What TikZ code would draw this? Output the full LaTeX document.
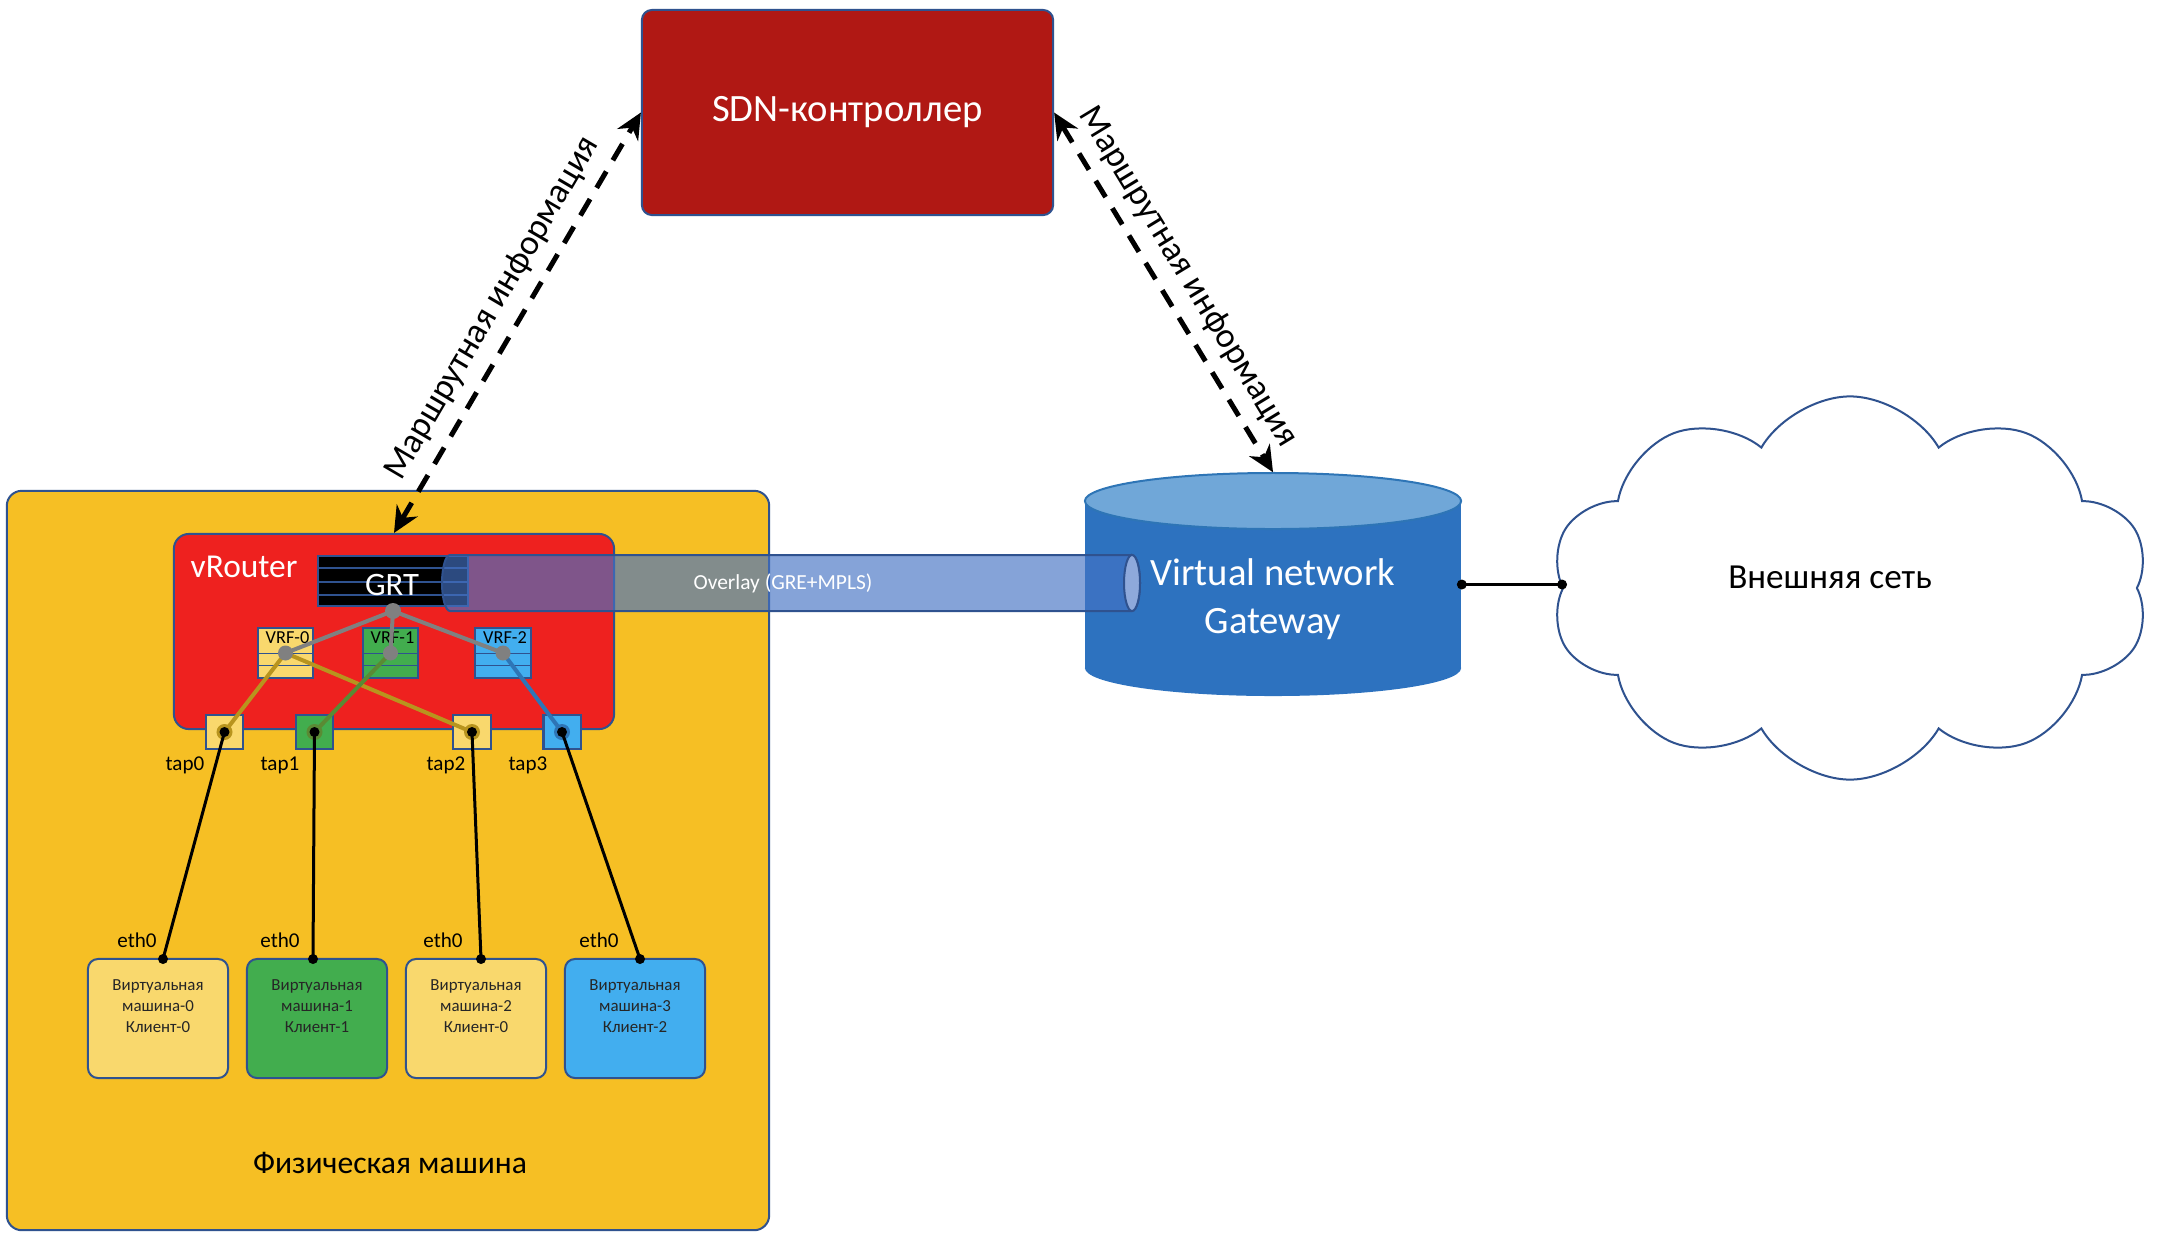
\documentclass[tikz,border=0pt]{standalone}
\usepackage{fontspec}
\setmainfont{Carlito}
\usetikzlibrary{arrows.meta,shapes.symbols}
\definecolor{frame}{HTML}{2F528F}
\definecolor{hostcol}{HTML}{F6BF24}
\definecolor{routercol}{HTML}{EE211F}
\definecolor{sdncol}{HTML}{B01814}
\definecolor{yel}{HTML}{F9D86D}
\definecolor{grn}{HTML}{42AD4E}
\definecolor{blu}{HTML}{42AEEF}
\definecolor{yelline}{HTML}{B8941E}
\definecolor{grnline}{HTML}{5A8A34}
\definecolor{bluline}{HTML}{2E75B6}
\definecolor{gwbody}{HTML}{2D72BF}
\definecolor{gwtop}{HTML}{70A7D8}
\definecolor{tunnel}{HTML}{4472C4}
\definecolor{tunnelcap}{HTML}{8EA9DB}
\definecolor{dark}{HTML}{262626}
\begin{document}
\begin{tikzpicture}[>={Stealth[length=2.6mm,width=2.4mm]},
	box/.style={draw=frame,line width=0.2mm},
	route/.style={<->,line width=0.5mm,dash pattern=on 1.9mm off 1.3mm},
	link/.style={line width=0.4mm},
	wire/.style={line width=0.3mm},
	small/.style={font=\fontsize{6}{7}\selectfont},
	vmtext/.style={font=\fontsize{4.8}{6}\selectfont,text=dark,align=center}
]
\def\ds{0.01}
\def\pix#1#2{({(#1)*\ds},{(-#2)*\ds})}
\path[use as bounding box,fill=white] \pix{0}{0} rectangle \pix{2180}{1242};

\node[box,rounded corners=1.5mm,fill=hostcol,minimum width=76.2mm,minimum height=73.9mm] (host) at \pix{388}{860.5} {};
\node[font=\fontsize{9}{11}\selectfont] (hostlabel) at \pix{390}{1163} {Физическая машина};

\node[box,rounded corners=1.5mm,fill=routercol,minimum width=44mm,minimum height=19.5mm] (vrouter) at \pix{394}{631.5} {};
\node[white,anchor=west,inner sep=0pt,font=\fontsize{9.5}{11}\selectfont] (vrlabel) at \pix{190}{567} {vRouter};

\node[box,fill=black,minimum width=15mm,minimum height=5mm] (grt) at \pix{393}{581} {};
\foreach \y in {568,582,595}{
	\draw[frame,line width=0.15mm] \pix{318}{\y} -- \pix{468}{\y};
}
\node[white,font=\fontsize{9.3}{11}\selectfont] (grtlabel) at \pix{392}{585} {GRT};
\path \pix{393}{611} coordinate (hub);

\foreach \n/\x/\c in {0/285.5/yel,1/390.5/grn,2/503/blu}{
	\node[box,fill=\c,minimum width=5.5mm,minimum height=5mm] (vrf\n) at \pix{\x}{653} {};
	\draw[frame,line width=0.1mm] \pix{\x-27.5}{653} -- \pix{\x+27.5}{653};
	\draw[frame,line width=0.1mm] \pix{\x-27.5}{665} -- \pix{\x+27.5}{665};
	\node[font=\fontsize{5.2}{6}\selectfont,inner sep=0pt] (vrflabel\n) at \pix{\x+2}{638} {VRF-\n};
}

\foreach \n/\x/\c/\lx in {0/224.5/yel/185,1/314.5/grn/280,2/472/yel/446,3/562/blu/528}{
	\node[box,fill=\c,minimum width=3.7mm,minimum height=3.4mm] (tap\n) at \pix{\x}{732} {};
	\node[small] (taplabel\n) at \pix{\lx}{765} {tap\n};
}

\foreach \n/\x/\c/\k/\ex/\lx in {0/158/yel/0/163/137,1/317/grn/1/313/280,2/476/yel/0/481/443,3/635/blu/2/640/599}{
	\node[box,rounded corners=1mm,fill=\c,minimum width=14mm,minimum height=11.9mm,
		label={[vmtext,anchor=north,label distance=-0.9mm]north:{Виртуальная\\машина-\n\\Клиент-\k}}] (vm\n) at \pix{\x}{1018.5} {};
	\path \pix{\ex}{959} coordinate (eth\n);
	\node[small] (ethlabel\n) at \pix{\lx}{940} {eth0};
}

\draw[link,yelline] (vrf0.center) -- (tap0.center) (vrf0.center) -- (tap2.center);
\draw[link,grnline] (vrf1.center) -- (tap1.center);
\draw[link,bluline] (vrf2.center) -- (tap3.center);
\draw[link,gray] (hub) -- (vrf0.center) (hub) -- (vrf1.center) (hub) -- (vrf2.center);
\fill[gray] (hub) circle (0.8mm);
\foreach \n in {0,1,2}{
	\fill[gray] (vrf\n.center) circle (0.75mm);
}
\foreach \n/\c in {0/yelline,1/grnline,2/yelline,3/bluline}{
	\fill[\c] (tap\n.center) circle (0.8mm);
	\draw[wire] (tap\n.center) -- (eth\n);
	\fill (tap\n.center) circle (0.5mm);
	\fill (eth\n) circle (0.5mm);
}

\node[minimum width=37.6mm,minimum height=22.3mm] (gw) at \pix{1273}{584.5} {};
\fill[gwbody] \pix{1085}{501} rectangle \pix{1461}{668};
\fill[gwbody] \pix{1273}{668} ellipse[x radius=18.8mm,y radius=2.8mm];
\filldraw[fill=gwtop,draw=bluline,line width=0.2mm] \pix{1273}{501} ellipse[x radius=18.8mm,y radius=2.8mm];
\node[white,align=center,font=\fontsize{11}{13.5}\selectfont] (gwlabel) at \pix{1273}{599} {Virtual network\\Gateway};

\filldraw[fill=tunnel,fill opacity=0.65,draw=frame,line width=0.2mm] \pix{1132}{555} -- \pix{450}{555}
	arc[start angle=90,end angle=270,x radius=0.8mm,y radius=2.8mm] -- \pix{1132}{611}
	arc[start angle=-90,end angle=90,x radius=0.8mm,y radius=2.8mm] -- cycle;
\filldraw[fill=tunnelcap,draw=frame,line width=0.2mm] \pix{1132}{583} ellipse[x radius=0.8mm,y radius=2.8mm];
\node[white,font=\fontsize{6.1}{7}\selectfont] (overlay) at \pix{783}{583} {Overlay (GRE+MPLS)};

\node[cloud,cloud puffs=10,cloud puff arc=120,cloud ignores aspect,draw=frame,line width=0.2mm,fill=white,
	minimum width=59.8mm,minimum height=38.3mm,
	label={[font=\fontsize{10}{12}\selectfont,xshift=-2mm,yshift=1.1mm]center:Внешняя сеть}] (cloud) at \pix{1850}{588} {};
\path (gw.east -| cloud.west) coordinate (cloudin);
\draw[wire] (gw.east) -- (cloudin);
\fill (gw.east) circle (0.5mm);
\fill (cloudin) circle (0.5mm);

\node[box,rounded corners=1mm,fill=sdncol,minimum width=41.1mm,minimum height=20.5mm,text=white,
	font=\fontsize{11}{13}\selectfont] (sdn) at \pix{847.5}{112.5} {SDN-контроллер};

\draw[route] (vrouter.north) -- node[sloped,above,font=\fontsize{10}{12}\selectfont] {Маршрутная информация} (sdn.west);
\draw[route] (sdn.east) -- node[sloped,above,font=\fontsize{10}{12}\selectfont] {Маршрутная информация} (gw.north);
\end{tikzpicture}
\end{document}
